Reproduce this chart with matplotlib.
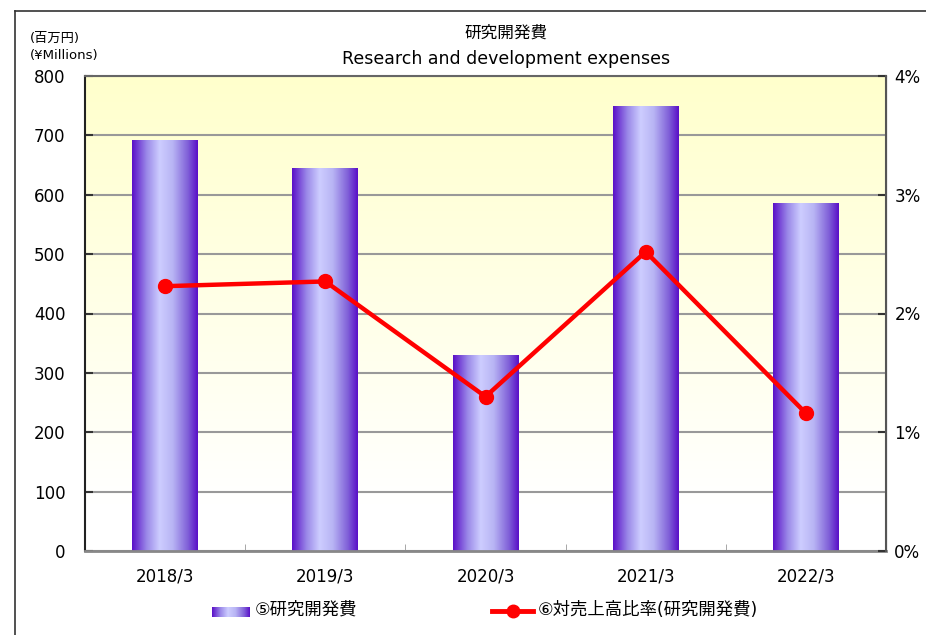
import matplotlib
matplotlib.use("Agg")
import matplotlib.pyplot as plt
import numpy as np
from matplotlib.colors import LinearSegmentedColormap
from matplotlib.lines import Line2D
from matplotlib.ticker import FuncFormatter, FixedLocator

plt.rcParams['font.family'] = ['DejaVu Sans', 'Noto Sans CJK JP']

# data
years = ['2018/3', '2019/3', '2020/3', '2021/3', '2022/3']
rd_expenses = [692, 645, 330, 748, 586]          # 百万円
rd_ratio = [2.23, 2.27, 1.30, 2.52, 1.16]         # % of sales
y_ticks = [0, 100, 200, 300, 400, 500, 600, 700, 800]
pct_ticks = [0, 1, 2, 3, 4]

bar_label = '⑤研究開発費'
line_label = '⑥対売上高比率(研究開発費)'

fig = plt.figure(figsize=(9.26, 6.35), dpi=100)
ax = fig.add_axes([85 / 926, 1 - 551 / 635, 801 / 926, 475 / 635])

x = np.arange(len(years))

# background gradient: light yellow at top, white at bottom
bg = LinearSegmentedColormap.from_list('bg', [(0, '#FFFFFF'), (0.1, '#FFFFFF'), (1, '#FFFFCC')])
ax.imshow(np.linspace(0, 1, 256).reshape(-1, 1), cmap=bg, origin='lower',
          extent=[-0.5, len(years) - 0.5, 0, 800], aspect='auto', zorder=0)

# gradient bar colors (horizontal)
bar_cmap = LinearSegmentedColormap.from_list(
    'bar', [(0.0, '#5A10C8'), (0.22, '#9A88E8'), (0.42, '#CDCDFF'),
            (0.62, '#B8B4F4'), (0.85, '#8060D8'), (1.0, '#5A10C8')])
bars = ax.bar(x, rd_expenses, width=0.41, color='none', zorder=2)
grad = np.linspace(0, 1, 200).reshape(1, -1)
for b in bars:
    ax.imshow(grad, cmap=bar_cmap, aspect='auto', zorder=2,
              extent=[b.get_x(), b.get_x() + b.get_width(), 0, b.get_height()])

ax.set_xlim(-0.5, len(years) - 0.5)
ax.set_ylim(0, 800)
ax.set_yticks(y_ticks)
ax.set_xticks(x)
ax.set_xticklabels(years, fontsize=12)
ax.xaxis.set_minor_locator(FixedLocator(np.arange(0.5, len(years) - 0.5, 1)))
ax.tick_params(axis='x', which='major', length=0, pad=12)
ax.tick_params(axis='x', which='minor', length=5, direction='in', color='#999999')
ax.tick_params(axis='y', direction='in', length=6, width=1.5, labelsize=12,
               pad=14, color='#333333')
ax.grid(axis='y', color='#999999', linewidth=1.5, zorder=1)
ax.set_axisbelow(True)
ax.spines['top'].set_color('#666666')
ax.spines['top'].set_linewidth(1.5)
ax.spines['left'].set_color('#222222')
ax.spines['left'].set_linewidth(1.5)
ax.spines['bottom'].set_color('#888888')
ax.spines['bottom'].set_linewidth(2)

# ratio line on secondary axis
ax2 = ax.twinx()
ax2.plot(x, rd_ratio, color='#FF0000', linewidth=3.2, marker='o',
         markersize=10, zorder=5)
ax2.set_ylim(0, 4)
ax2.set_yticks(pct_ticks)
ax2.yaxis.set_major_formatter(FuncFormatter(lambda v, p: f'{v:.0f}%'))
ax2.tick_params(axis='y', direction='in', length=6, width=1.5, labelsize=12,
                pad=6, color='#333333')
ax2.spines['right'].set_color('#555555')
ax2.spines['right'].set_linewidth(1.5)
for s in ['left', 'top', 'bottom']:
    ax2.spines[s].set_visible(False)

# titles
fig.text(506 / 926, 1 - 33 / 635, '研究開発費', ha='center', va='center', fontsize=12)
fig.text(506 / 926, 1 - 59 / 635, 'Research and development expenses',
         ha='center', va='center', fontsize=12.5)
fig.text(30 / 926, 1 - 38 / 635, '(百万円)', ha='left', va='center', fontsize=9.5)
fig.text(30 / 926, 1 - 55 / 635, '(¥Millions)', ha='left', va='center', fontsize=9.5)

# legend (manual)
lax = fig.add_axes([212 / 926, 1 - 617 / 635, 38 / 926, 10 / 635])
lax.imshow(grad, cmap=bar_cmap, aspect='auto')
lax.axis('off')
fig.text(255 / 926, 1 - 610 / 635, bar_label, ha='left', va='center', fontsize=12.5)
fig.add_artist(Line2D([492 / 926, 533 / 926], [1 - 611 / 635] * 2, color='#FF0000',
                      linewidth=3.5, transform=fig.transFigure))
fig.add_artist(Line2D([512.5 / 926], [1 - 611 / 635], color='#FF0000', marker='o',
                      markersize=9, transform=fig.transFigure))
fig.text(538 / 926, 1 - 610 / 635, line_label, ha='left', va='center', fontsize=12.5)

# outer chart frame
fig.add_artist(Line2D([15 / 926, 15 / 926], [0, 1 - 11 / 635], color='#333333',
                      linewidth=1.2, transform=fig.transFigure))
fig.add_artist(Line2D([15 / 926, 1], [1 - 11 / 635] * 2, color='#333333',
                      linewidth=1.2, transform=fig.transFigure))

fig.savefig('out.png', dpi=100)
